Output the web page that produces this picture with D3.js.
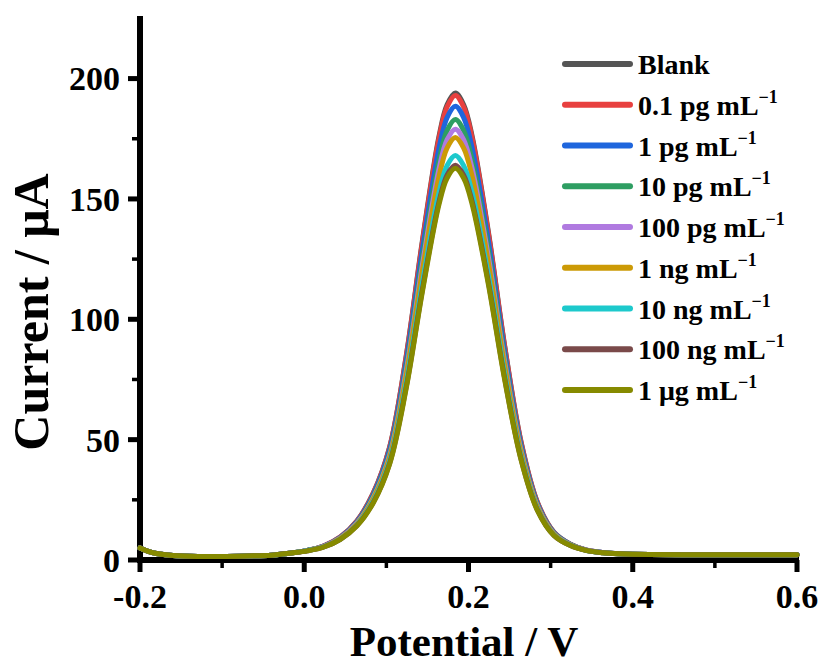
<!DOCTYPE html>
<html>
<head>
<meta charset="utf-8">
<script src="https://cdn.jsdelivr.net/npm/d3@7"></script>
<style>
  html, body { margin: 0; padding: 0; background: #fff; overflow: hidden; }
  svg { display: block; }
  text { font-family: "Liberation Serif", "Times New Roman", serif; font-weight: bold; fill: #000; }
</style>
</head>
<body>
<svg id="chart" width="839" height="665"></svg>
<script>
// Potential (V)
const potential = [-0.2, -0.19, -0.18, -0.16, -0.13, -0.10, -0.07, -0.04, -0.016, 0.004, 0.024, 0.044, 0.064, 0.084, 0.104, 0.124, 0.144, 0.164, 0.174, 0.184, 0.194, 0.204, 0.224, 0.244, 0.264, 0.284, 0.304, 0.324, 0.344, 0.364, 0.384, 0.42, 0.48, 0.54, 0.6];

// Current (µA) for each concentration
const blank   = [5.0, 3.6, 2.7, 1.9, 1.5, 1.5, 1.7, 2.0, 2.9, 4.0, 5.9, 9.6, 16.2, 27.8, 47.0, 84.5, 133.0, 175.9, 189.2, 194.0, 189.2, 176.8, 136.8, 89.1, 49.1, 23.9, 11.6, 6.6, 4.1, 3.1, 2.6, 2.3, 2.2, 2.2, 2.2];
const pg01    = [5.0, 3.6, 2.7, 1.9, 1.5, 1.5, 1.7, 2.0, 2.9, 4.0, 5.9, 9.6, 16.1, 27.7, 46.8, 84.1, 132.3, 175.0, 188.3, 193.0, 188.3, 175.9, 136.1, 88.7, 48.8, 23.8, 11.5, 6.6, 4.1, 3.1, 2.6, 2.3, 2.2, 2.2, 2.2];
const pg1     = [5.0, 3.6, 2.7, 1.9, 1.5, 1.5, 1.7, 2.0, 2.9, 4.0, 5.8, 9.4, 15.8, 27.1, 45.8, 82.1, 129.2, 170.9, 183.9, 188.5, 183.9, 171.8, 132.9, 86.6, 47.7, 23.3, 11.3, 6.5, 4.1, 3.1, 2.6, 2.3, 2.2, 2.2, 2.2];
const pg10    = [5.0, 3.6, 2.7, 1.9, 1.5, 1.5, 1.7, 2.0, 2.9, 4.0, 5.7, 9.2, 15.4, 26.4, 44.5, 79.8, 125.5, 165.9, 178.5, 183.0, 178.5, 166.8, 129.1, 84.2, 46.4, 22.7, 11.1, 6.4, 4.0, 3.0, 2.6, 2.3, 2.2, 2.2, 2.2];
const pg100   = [5.0, 3.6, 2.7, 1.9, 1.5, 1.5, 1.7, 2.0, 2.9, 3.9, 5.7, 9.1, 15.2, 25.8, 43.5, 78.1, 122.8, 162.3, 174.6, 179.0, 174.6, 163.2, 126.3, 82.4, 45.5, 22.3, 10.9, 6.3, 4.0, 3.0, 2.6, 2.3, 2.2, 2.2, 2.2];
const ng1     = [5.0, 3.6, 2.7, 1.9, 1.5, 1.5, 1.7, 2.0, 2.9, 3.9, 5.6, 9.0, 14.9, 25.4, 42.7, 76.5, 120.4, 159.1, 171.2, 175.5, 171.2, 160.0, 123.8, 80.8, 44.6, 21.9, 10.7, 6.2, 4.0, 3.0, 2.6, 2.3, 2.2, 2.2, 2.2];
const ng10    = [5.0, 3.6, 2.7, 1.9, 1.5, 1.5, 1.7, 2.0, 2.9, 3.9, 5.5, 8.7, 14.5, 24.4, 41.1, 73.3, 115.3, 152.4, 163.9, 168.0, 163.9, 153.2, 118.6, 77.4, 42.8, 21.1, 10.4, 6.1, 3.9, 3.0, 2.6, 2.3, 2.2, 2.2, 2.2];
const ng100   = [5.0, 3.6, 2.7, 1.9, 1.5, 1.5, 1.7, 2.0, 2.9, 3.8, 5.4, 8.6, 14.2, 23.9, 40.2, 71.6, 112.6, 148.7, 160.0, 164.0, 160.0, 149.5, 115.8, 75.6, 41.9, 20.7, 10.2, 6.0, 3.9, 3.0, 2.6, 2.3, 2.2, 2.2, 2.2];
const ug1     = [5.0, 3.6, 2.7, 1.9, 1.5, 1.5, 1.7, 2.0, 2.9, 3.8, 5.4, 8.6, 14.1, 23.7, 39.9, 71.0, 111.7, 147.6, 158.7, 162.7, 158.7, 148.4, 114.9, 75.0, 41.6, 20.5, 10.2, 6.0, 3.9, 3.0, 2.6, 2.3, 2.2, 2.2, 2.2];

const seriesNames = ["Blank", "0.1 pg mL", "1 pg mL", "10 pg mL", "100 pg mL", "1 ng mL", "10 ng mL", "100 ng mL", "1 \u03bcg mL"];
const seriesSup   = ["", "\u22121", "\u22121", "\u22121", "\u22121", "\u22121", "\u22121", "\u22121", "\u22121"];
const seriesValues = [blank, pg01, pg1, pg10, pg100, ng1, ng10, ng100, ug1];
const seriesColors = ["#555555", "#E8403F", "#1F66DD", "#2E9E62", "#B07AE0", "#CC9A06", "#1DC9CC", "#7A4A4A", "#868A00"];

const xTicks = [-0.2, 0.0, 0.2, 0.4, 0.6];
const xTickLabels = ["-0.2", "0.0", "0.2", "0.4", "0.6"];
const xMinor = [-0.1, 0.1, 0.3, 0.5];
const yTicks = [0, 50, 100, 150, 200];
const yMinor = [25, 75, 125, 175];

const svg = d3.select("#chart");
const x = d3.scaleLinear().domain([-0.2, 0.6]).range([140, 797]);
const y = d3.scaleLinear().domain([0, 226]).range([560, 16]);

// axes
const axisW = 6;
const gx = svg.append("g").attr("transform", `translate(0,${y(0)})`);
gx.append("line").attr("x1", x(-0.2) - 3).attr("x2", x(0.6) + 2).attr("y1", 0).attr("y2", 0)
  .attr("stroke", "#000").attr("stroke-width", axisW);
gx.selectAll(".maj").data(xTicks).enter().append("line")
  .attr("x1", d => x(d)).attr("x2", d => x(d)).attr("y1", 0).attr("y2", 12)
  .attr("stroke", "#000").attr("stroke-width", 5);
gx.selectAll(".min").data(xMinor).enter().append("line")
  .attr("x1", d => x(d)).attr("x2", d => x(d)).attr("y1", 0).attr("y2", 8)
  .attr("stroke", "#000").attr("stroke-width", 3.5);
gx.selectAll(".lab").data(xTicks).enter().append("text")
  .attr("x", d => x(d)).attr("y", 48).attr("text-anchor", "middle")
  .style("font-size", "34px").text((d, i) => xTickLabels[i]);

const gy = svg.append("g").attr("transform", `translate(${x(-0.2)},0)`);
gy.append("line").attr("x1", 0).attr("x2", 0).attr("y1", y(226)).attr("y2", y(0) + 3)
  .attr("stroke", "#000").attr("stroke-width", axisW);
gy.selectAll(".maj").data(yTicks).enter().append("line")
  .attr("x1", -12).attr("x2", 0).attr("y1", d => y(d)).attr("y2", d => y(d))
  .attr("stroke", "#000").attr("stroke-width", 5);
gy.selectAll(".min").data(yMinor).enter().append("line")
  .attr("x1", -8).attr("x2", 0).attr("y1", d => y(d)).attr("y2", d => y(d))
  .attr("stroke", "#000").attr("stroke-width", 3.5);
gy.selectAll(".lab").data(yTicks).enter().append("text")
  .attr("x", -20).attr("y", d => y(d)).attr("dy", "0.35em").attr("text-anchor", "end")
  .style("font-size", "34px").text(d => d);

// titles
svg.append("text").attr("x", 464).attr("y", 656).attr("text-anchor", "middle")
  .style("font-size", "43px").text("Potential / V");
svg.append("text").attr("transform", "translate(48,312) rotate(-90)").attr("text-anchor", "middle")
  .style("font-size", "50px").text("Current / \u03bcA");

// curves
const line = d3.line().x((d, i) => x(potential[i])).y(d => y(d)).curve(d3.curveCatmullRom.alpha(0.5));
svg.append("g").selectAll("path").data(seriesValues).enter().append("path")
  .attr("d", d => line(d)).attr("fill", "none")
  .attr("stroke", (d, i) => seriesColors[i]).attr("stroke-width", 5)
  .attr("stroke-linejoin", "round").attr("stroke-linecap", "round");

// legend
const lg = svg.append("g");
const rows = lg.selectAll("g").data(seriesNames).enter().append("g")
  .attr("transform", (d, i) => `translate(0,${64 + i * 40.75})`);
rows.append("line").attr("x1", 565).attr("x2", 630).attr("y1", 0).attr("y2", 0)
  .attr("stroke", (d, i) => seriesColors[i]).attr("stroke-width", 6).attr("stroke-linecap", "round");
const t = rows.append("text").attr("x", 638).attr("y", 10).style("font-size", "28px");
t.append("tspan").text(d => d);
t.append("tspan").attr("dy", -12).style("font-size", "18px").text((d, i) => seriesSup[i]);
</script>
</body>
</html>
